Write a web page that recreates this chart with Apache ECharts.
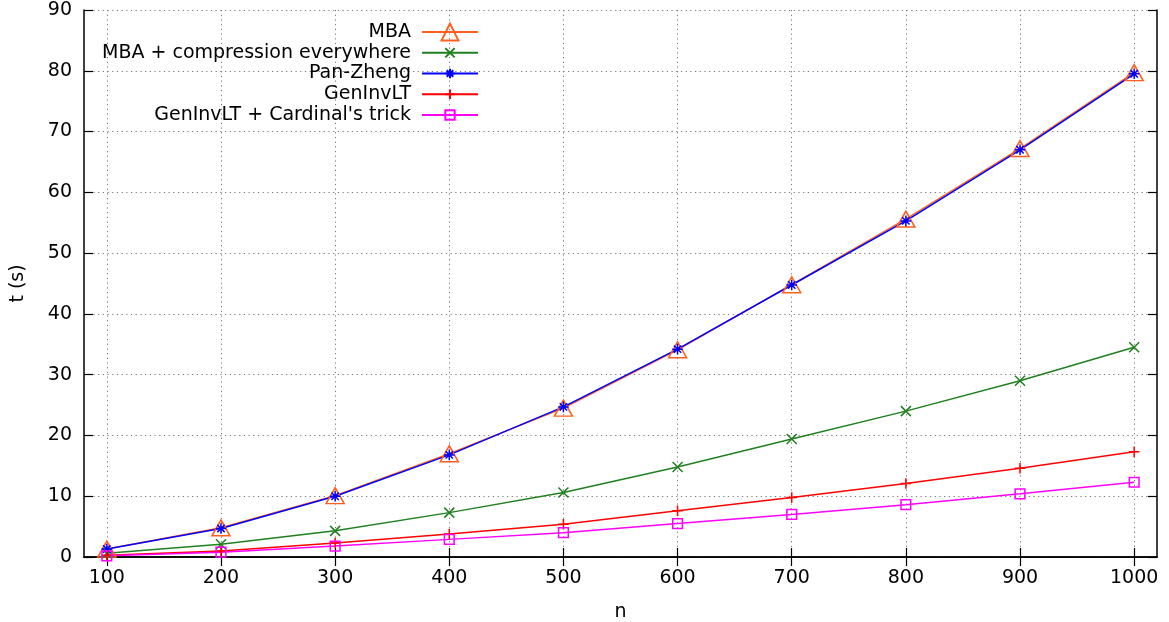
<!DOCTYPE html>
<html>
<head>
<meta charset="utf-8">
<script src="https://cdn.jsdelivr.net/npm/echarts@6/dist/echarts.min.js"></script>
<style>html,body{margin:0;padding:0;background:#fff}#c{width:1169px;height:622px}</style>
</head>
<body>
<div id="c"></div>
<script>
const nValues = [100, 200, 300, 400, 500, 600, 700, 800, 900, 1000];
const xTicks = [100, 200, 300, 400, 500, 600, 700, 800, 900, 1000];
const mba = [1.3, 4.8, 10.1, 17.0, 24.5, 34.1, 44.8, 55.6, 67.2, 79.7];
const mbaCompression = [0.6, 2.1, 4.3, 7.3, 10.6, 14.8, 19.4, 24.0, 29.0, 34.5];
const panZheng = [1.3, 4.7, 10.0, 16.8, 24.7, 34.2, 44.75, 55.3, 67.0, 79.5];
const genInvLT = [0.3, 1.0, 2.3, 3.8, 5.4, 7.6, 9.8, 12.1, 14.6, 17.3];
const genInvLTCardinal = [0.2, 0.8, 1.8, 2.9, 4.0, 5.5, 7.0, 8.6, 10.4, 12.3];
const seriesNames = ['MBA', 'MBA + compression everywhere', 'Pan-Zheng', 'GenInvLT', "GenInvLT + Cardinal's trick"];

const FONT = 'DejaVu Sans';
const pairs = arr => nValues.map((n, i) => [n, arr[i]]);
// padded marker paths (invisible move points enlarge the box so small marks stay small in the legend)
const PAD = 'M-4,-4M14,14';
const crossPath = 'path://' + PAD + 'M0,0L10,10M0,10L10,0';
const starPath = 'path://' + PAD + 'M5,0L5,10M0,5L10,5M1.5,1.5L8.5,8.5M1.5,8.5L8.5,1.5';
const plusPath = 'path://' + PAD + 'M5,0L5,10M0,5L10,5';
const squarePath = 'path://' + PAD + 'M0,0L10,0L10,10L0,10Z';

function mkSeries(name, data, color, symbol, size) {
  return {
    name: name, type: 'line', data: pairs(data),
    symbol: symbol, symbolSize: size, showAllSymbol: true,
    lineStyle: { color: color, width: 1.5 },
    itemStyle: { color: 'rgba(0,0,0,0)', borderColor: color, borderWidth: 1.5 },
    emphasis: { disabled: true },
    animation: false, clip: false
  };
}

const chart = echarts.init(document.getElementById('c'), null, { renderer: 'canvas' });
const axisLineStyle = { color: '#000', width: 1.5 };
chart.setOption({
  animation: false,
  textStyle: { fontFamily: FONT },
  grid: { left: 84, right: 12, top: 10, bottom: 65, containLabel: false, outerBoundsMode: 'none' },
  legend: {
    orient: 'vertical', align: 'right', right: 690, top: 22,
    itemWidth: 56, itemHeight: 21, itemGap: 0.75, padding: 0,
    textStyle: { fontFamily: FONT, fontSize: 19, color: '#000', lineHeight: 20, padding: [0, 6, 0, 0] },
    data: seriesNames
  },
  xAxis: [{
    type: 'value', min: 80, max: 1020,
    name: 'n', nameLocation: 'middle', nameGap: 46,
    nameTextStyle: { fontFamily: FONT, fontSize: 19, color: '#000' },
    axisLine: { show: true, lineStyle: axisLineStyle },
    axisTick: { show: true, inside: true, length: 9, customValues: xTicks, lineStyle: { color: '#000', width: 1.2 } },
    axisLabel: { customValues: xTicks, formatter: v => String(v), fontFamily: FONT, fontSize: 19, color: '#000', margin: 12 },
    splitLine: { show: true, lineStyle: { color: '#777', width: 1, type: [1.2, 3.5] } }
  }, {
    type: 'value', min: 80, max: 1020, position: 'top',
    axisLine: { show: true, lineStyle: axisLineStyle },
    axisTick: { show: true, inside: true, length: 9, customValues: xTicks, lineStyle: { color: '#000', width: 1.2 } },
    axisLabel: { show: false }, splitLine: { show: false }
  }],
  yAxis: [{
    type: 'value', min: 0, max: 90, interval: 10,
    name: 't (s)', nameLocation: 'middle', nameGap: 56, nameRotate: 90,
    nameTextStyle: { fontFamily: FONT, fontSize: 19, color: '#000' },
    axisLine: { show: true, lineStyle: axisLineStyle },
    axisTick: { show: true, inside: true, length: 9, lineStyle: { color: '#000', width: 1.2 } },
    axisLabel: { fontFamily: FONT, fontSize: 19, color: '#000', margin: 12 },
    splitLine: { show: true, lineStyle: { color: '#777', width: 1, type: [1.2, 3.5] } }
  }, {
    type: 'value', min: 0, max: 90, interval: 10, position: 'right',
    axisLine: { show: true, lineStyle: axisLineStyle },
    axisTick: { show: true, inside: true, length: 9, lineStyle: { color: '#000', width: 1.2 } },
    axisLabel: { show: false }, splitLine: { show: false }
  }],
  series: [
    mkSeries(seriesNames[0], mba, '#ff6020', 'triangle', [18, 16]),
    mkSeries(seriesNames[1], mbaCompression, '#1f801f', crossPath, 18),
    mkSeries(seriesNames[2], panZheng, '#0000ff', starPath, 19),
    mkSeries(seriesNames[3], genInvLT, '#ff0000', plusPath, 19),
    mkSeries(seriesNames[4], genInvLTCardinal, '#ff00ff', squarePath, 17.5)
  ]
});
</script>
</body>
</html>
